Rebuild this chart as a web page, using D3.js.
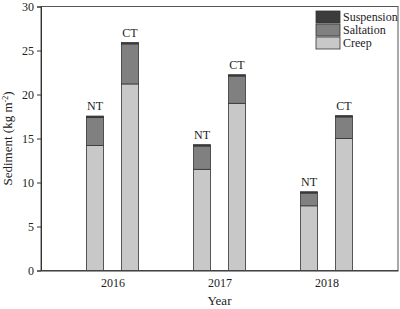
<!DOCTYPE html>
<html><head><meta charset="utf-8">
<script src="https://cdn.jsdelivr.net/npm/d3@7"></script>
<style>body{margin:0;background:#fff}svg{display:block}text{font-family:"Liberation Serif","Times New Roman",serif;fill:#222}</style>
</head><body>
<svg id="c" width="400" height="309"></svg>
<script>
const years = ["2016","2017","2018"];
const treatments = ["NT","CT"];
const components = ["Creep","Saltation","Suspension"];
const creep =      [14.2, 21.2, 11.5, 19.0, 7.35, 15.0];
const saltation =  [3.2, 4.55, 2.65, 3.1, 1.45, 2.45];
const suspension = [0.15, 0.15, 0.15, 0.15, 0.15, 0.15];
const yTicks = [0,5,10,15,20,25,30];
const colors = {Creep:"#c8c8c8", Saltation:"#808080", Suspension:"#3c3c3c"};

const svg = d3.select("#c");
const L=41, R=398, T=6.5, B=270.5;
const x = d3.scalePoint().domain(years).range([L,R]).padding(0.668);
const xt = d3.scalePoint().domain(treatments).range([-17.5,17.5]);
const y = d3.scaleLinear().domain([0,30]).range([B,T]);
const bw = 17;

const rows = [];
years.forEach((yr,i)=>treatments.forEach((t,j)=>{
  const k=i*2+j;
  rows.push({year:yr, trt:t, Creep:creep[k], Saltation:saltation[k], Suspension:suspension[k]});
}));
const stacked = d3.stack().keys(components)(rows);

svg.append("g").selectAll("g").data(stacked).join("g")
  .attr("fill", d=>colors[d.key])
  .selectAll("rect").data(d=>d).join("rect")
  .attr("x", d=>x(d.data.year)+xt(d.data.trt)-bw/2)
  .attr("width", bw)
  .attr("y", d=>y(d[1]))
  .attr("height", d=>y(d[0])-y(d[1]))
  .attr("stroke","#333").attr("stroke-width",0.8);

svg.append("g").selectAll("text").data(rows).join("text")
  .attr("x", d=>x(d.year)+xt(d.trt))
  .attr("y", d=>y(d.Creep+d.Saltation+d.Suspension)-6)
  .attr("text-anchor","middle").attr("font-size",12).text(d=>d.trt);

// frame
svg.append("rect").attr("x",L).attr("y",T).attr("width",R-L).attr("height",B-T)
  .attr("fill","none").attr("stroke","#555").attr("stroke-width",1);

const ya = svg.append("g").attr("transform",`translate(${L},0)`)
  .call(d3.axisLeft(y).tickValues(yTicks).tickSize(4).tickPadding(3));
ya.select(".domain").attr("stroke","#333");
ya.selectAll("line").attr("stroke","#333");
ya.selectAll("text").attr("font-size",12).attr("fill","#222").attr("font-family","Liberation Serif");

const xa = svg.append("g").attr("transform",`translate(0,${B})`)
  .call(d3.axisBottom(x).tickSize(0).tickPadding(8));
xa.select(".domain").attr("stroke","#333");
xa.selectAll("text").attr("font-size",12).attr("fill","#222").attr("font-family","Liberation Serif");

svg.append("text").attr("x",(L+R)/2).attr("y",305).attr("text-anchor","middle")
  .attr("font-size",13).text("Year");
const yl = svg.append("text").attr("transform",`translate(12,${(T+B)/2}) rotate(-90)`)
  .attr("text-anchor","middle").attr("font-size",13);
yl.append("tspan").text("Sediment (kg m");
yl.append("tspan").attr("dy",-4).attr("font-size",8).text("-2");
yl.append("tspan").attr("dy",4).text(")");

const legKeys = ["Suspension","Saltation","Creep"];
const lg = svg.append("g").selectAll("g").data(legKeys).join("g")
  .attr("transform",(d,i)=>`translate(316,${11+i*13})`);
lg.append("rect").attr("width",24).attr("height",12).attr("fill",d=>colors[d])
  .attr("stroke","#333").attr("stroke-width",0.8);
lg.append("text").attr("x",27).attr("y",10).attr("font-size",12).text(d=>d);
</script>
</body></html>
